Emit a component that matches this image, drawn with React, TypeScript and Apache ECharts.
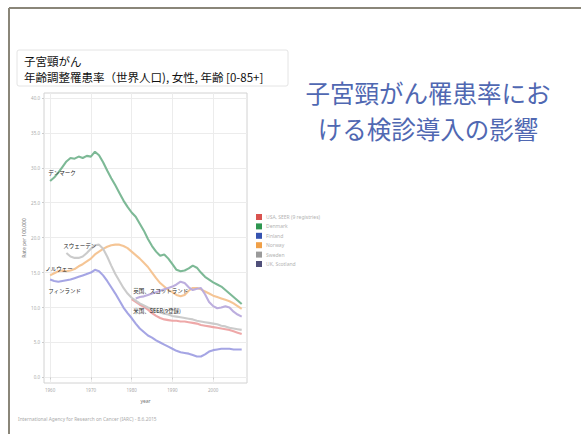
import React, { useEffect, useRef } from "react";
import * as echarts from "echarts";

// ---- data ----
const seriesNames = ["USA, SEER (9 registries)", "Denmark", "Finland", "Norway", "Sweden", "UK, Scotland"];
const legendColors = ["#d9534f", "#2e9650", "#3553b0", "#f0a048", "#9a9a9a", "#50507a"];
const lineColors = ["#eda3a3", "#76b590", "#a0a0e3", "#f4c28f", "#c8c8c8", "#b8aadc"];
const startYears = [1980, 1960, 1960, 1960, 1964, 1981];

const usaSeer = [
  11.2, 10.8, 10.4, 10.1, 9.7, 9.2, 8.8, 8.5, 8.3, 8.2,
  8.1, 8.1, 8.0, 8.0, 7.9, 7.8, 7.7, 7.5, 7.4, 7.3,
  7.2, 7.1, 7.0, 6.9, 6.8, 6.6, 6.4, 6.2,
];
const denmark = [
  28.1, 28.6, 29.3, 30.1, 30.9, 31.4, 31.3, 31.6, 31.4, 31.7,
  31.6, 32.3, 31.8, 30.8, 29.6, 28.5, 27.5, 26.4, 25.3, 24.4,
  23.6, 23.0, 22.0, 21.0, 19.8, 18.8, 18.0, 17.4, 17.6, 17.0,
  16.2, 15.4, 15.2, 15.3, 15.6, 16.0, 15.7, 15.0, 14.4, 14.0,
  13.6, 13.3, 13.0, 12.5, 12.0, 11.5, 11.0, 10.5,
];
const finland = [
  14.0, 13.8, 13.7, 13.8, 13.9, 14.0, 14.2, 14.4, 14.6, 14.8,
  15.0, 15.4, 15.2, 14.6, 13.8, 12.9, 12.0, 11.0, 10.0, 9.2,
  8.5, 7.7, 7.0, 6.5, 6.0, 5.7, 5.3, 5.0, 4.7, 4.4,
  4.1, 3.8, 3.6, 3.5, 3.4, 3.2, 3.0, 3.0, 3.3, 3.7,
  3.9, 4.0, 4.1, 4.1, 4.1, 4.0, 4.0, 4.0,
];
const norway = [
  14.6, 14.9, 15.2, 15.3, 15.2, 15.3, 15.5, 15.9, 16.2, 16.6,
  17.0, 17.6, 18.0, 18.4, 18.7, 18.9, 19.0, 19.0, 18.8, 18.5,
  18.0, 17.5, 17.0, 16.4, 15.8, 15.0, 14.2, 13.5, 13.0, 12.5,
  12.2, 11.8, 11.6, 11.8, 12.4, 12.8, 12.8, 12.6, 12.3, 12.0,
  11.7, 11.5, 11.3, 11.1, 10.9, 10.6, 10.2, 9.8,
];
const sweden = [
  17.8, 17.3, 17.1, 17.1, 17.3, 17.8,
  18.4, 18.9, 19.0, 18.4, 17.3, 16.0, 14.8, 13.8, 12.8, 12.0,
  11.4, 11.0, 10.6, 10.3, 10.0, 9.8, 9.5, 9.3, 9.1, 9.0,
  8.8, 8.7, 8.6, 8.5, 8.4, 8.3, 8.1, 8.0, 7.9, 7.8,
  7.7, 7.6, 7.4, 7.3, 7.1, 7.0, 6.9, 6.8,
];
const ukScotland = [
  11.3, 11.5, 11.6, 11.8, 12.0, 12.2, 12.4, 12.6, 12.8,
  13.0, 13.3, 13.7, 13.5, 12.9, 12.5, 12.7, 12.8, 11.9, 10.8,
  10.2, 9.9, 10.0, 10.2, 10.0, 9.4, 9.0, 8.7,
];
const seriesValues = [usaSeer, denmark, finland, norway, sweden, ukScotland];

const xTickValues = [1960, 1970, 1980, 1990, 2000];
const yTickValues = [0, 5, 10, 15, 20, 25, 30, 35, 40];

const annotationTexts = ["米国、SEER(9登録)", "デンマーク", "フィンランド", "ノルウェー", "スウェーデン", "英国、スコットランド"];

const titleLine1 = "子宮頸がん";
const titleLine2 = "年齢調整罹患率（世界人口), 女性, 年齢 [0-85+]";
const slideTitleLine1 = "子宮頸がん罹患率にお";
const slideTitleLine2 = "ける検診導入の影響";
const sourceText = "International Agency for Research on Cancer (IARC) - 8.6.2015";
const xAxisName = "year";
const yAxisName = "Rate per 100,000";

const JP = "'Noto Sans CJK JP', 'Noto Sans', sans-serif";
const LAT = "'Noto Sans', 'DejaVu Sans', sans-serif";

export default function App() {
  const ref = useRef<HTMLDivElement>(null);
  useEffect(() => {
    if (!ref.current) return;
    const chart = echarts.init(ref.current, null, { renderer: "svg" });

    // annotation anchor positions (data coordinates of label left edge)
    const annotationAnchors: [number, number][] = [
      [1980.4, 9.5],
      [1959.5, 29.2],
      [1959.5, 12.3],
      [1958.8, 15.5],
      [1963.2, 18.8],
      [1980.4, 12.3],
    ];

    const series = seriesNames.map((name, i) => ({
      type: "line",
      name,
      data: seriesValues[i].map((v, k) => [startYears[i] + k, v]),
      showSymbol: false,
      symbol: "none",
      smooth: false,
      lineStyle: { color: lineColors[i], width: 2.1, opacity: 0.95 },
      itemStyle: { color: legendColors[i] },
      emphasis: { disabled: true },
      z: 3,
      markPoint: {
        silent: true,
        symbol: "circle",
        symbolSize: 0.1,
        itemStyle: { color: "rgba(0,0,0,0)" },
        label: {
          show: true,
          position: "right",
          distance: 0,
          formatter: annotationTexts[i],
          fontSize: 5.5,
          color: "#222",
          fontFamily: JP,
        },
        data: [{ coord: annotationAnchors[i], name: annotationTexts[i] }],
      },
    }));

    chart.setOption({
      animation: false,
      backgroundColor: "#ffffff",
      grid: {
        left: 44,
        top: 93,
        width: 203,
        height: 290,
        show: true,
        borderColor: "#d2d2d2",
        borderWidth: 1,
        containLabel: false,
        outerBoundsMode: "none",
      },
      legend: {
        orient: "vertical",
        left: 256,
        top: 214,
        padding: 0,
        itemWidth: 6,
        itemHeight: 6,
        itemGap: 3.4,
        icon: "rect",
        selectedMode: false,
        textStyle: { fontSize: 5, color: "#b3b3b3", fontFamily: LAT, padding: [0, 0, 0, -1] },
        data: seriesNames.map((n, i) => ({ name: n, itemStyle: { color: legendColors[i] } })),
      },
      xAxis: {
        type: "value",
        min: 1958.5,
        max: 2008.3,
        name: xAxisName,
        nameLocation: "middle",
        nameGap: 15,
        nameTextStyle: { fontSize: 5, color: "#777", fontFamily: LAT },
        axisLine: { show: false },
        axisTick: { show: true, customValues: xTickValues, length: 2, lineStyle: { color: "#ccc" } },
        axisLabel: {
          customValues: xTickValues,
          fontSize: 4.5,
          color: "#aaa",
          margin: 4,
          fontFamily: LAT,
          formatter: (v: number) => String(v),
        },
        splitLine: { show: true, lineStyle: { color: "#ececec", width: 1 } },
      },
      yAxis: {
        type: "value",
        min: -0.8,
        max: 40.7,
        name: yAxisName,
        nameLocation: "middle",
        nameGap: 18,
        nameRotate: 90,
        nameTextStyle: { fontSize: 5, color: "#777", fontFamily: LAT },
        axisLine: { show: false },
        axisTick: { show: true, customValues: yTickValues, length: 2, lineStyle: { color: "#ccc" } },
        axisLabel: {
          customValues: yTickValues,
          fontSize: 4.5,
          color: "#aaa",
          margin: 4,
          fontFamily: LAT,
          formatter: (v: number) => v.toFixed(1),
        },
        splitLine: { show: true, lineStyle: { color: "#ececec", width: 1 } },
      },
      graphic: [
        {
          type: "line",
          silent: true,
          shape: { x1: 9, y1: 8, x2: 581, y2: 8 },
          style: { stroke: "#8a8679", lineWidth: 2 },
        },
        {
          type: "line",
          silent: true,
          shape: { x1: 9, y1: 8, x2: 9, y2: 434 },
          style: { stroke: "#8a8679", lineWidth: 2 },
        },
        {
          type: "rect",
          silent: true,
          z: 10,
          shape: { x: 17, y: 50, width: 271, height: 36, r: 2 },
          style: { fill: "#ffffff", stroke: "#e4e4e4", lineWidth: 1 },
        },
        {
          type: "text",
          silent: true,
          z: 11,
          x: 24,
          y: 61,
          style: { text: titleLine1, fontSize: 11.5, fill: "#111", fontFamily: JP, verticalAlign: "middle", align: "left" },
        },
        {
          type: "text",
          silent: true,
          z: 11,
          x: 24,
          y: 76.5,
          style: { text: titleLine2, fontSize: 11.5, fill: "#111", fontFamily: JP, verticalAlign: "middle", align: "left" },
        },
        {
          type: "text",
          silent: true,
          z: 11,
          x: 428,
          y: 92.5,
          style: { text: slideTitleLine1, fontSize: 24.5, fill: "#5068b2", fontFamily: JP, align: "center", verticalAlign: "middle" },
        },
        {
          type: "text",
          silent: true,
          z: 11,
          x: 428,
          y: 128.5,
          style: { text: slideTitleLine2, fontSize: 24.5, fill: "#5068b2", fontFamily: JP, align: "center", verticalAlign: "middle" },
        },
        {
          type: "text",
          silent: true,
          z: 11,
          x: 18,
          y: 419,
          style: { text: sourceText, fontSize: 4.8, fill: "#aaa", fontFamily: LAT, verticalAlign: "middle", align: "left" },
        },
      ],
      series,
    });
    return () => chart.dispose();
  }, []);
  return <div ref={ref} style={{ position: "fixed", left: 0, top: 0, width: 581, height: 434 }} />;
}
